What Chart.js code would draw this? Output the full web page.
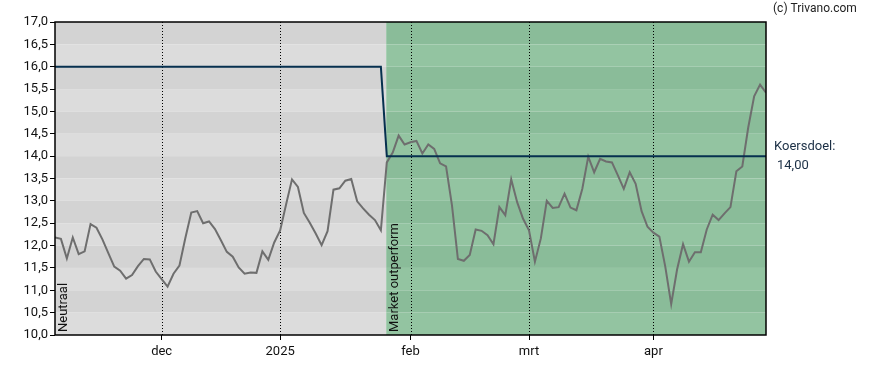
<!DOCTYPE html>
<html>
<head>
<meta charset="utf-8">
<script src="https://cdn.jsdelivr.net/npm/chart.js@4/dist/chart.umd.min.js"></script>
<style>
    html, body { margin: 0; padding: 0; background: #fff; }
    #wrap { width: 888px; height: 370px; position: relative; }
</style>
</head>
<body>
<div id="wrap"><canvas id="koersChart"></canvas></div>
<script>
// Daily closes, one per trading day (early nov 2024 .. end apr 2025)
const prices = [
    12.18, 12.15, 11.71, 12.18, 11.81, 11.87, 12.48, 12.40, 12.14, 11.83,
    11.53, 11.44, 11.26, 11.34, 11.54, 11.70, 11.69, 11.42, 11.25, 11.08,
    11.37, 11.55, 12.17, 12.74, 12.77, 12.50, 12.54, 12.37, 12.12, 11.86,
    11.75, 11.51, 11.37, 11.40, 11.39, 11.87, 11.68, 12.07, 12.34, 12.92,
    13.48, 13.31, 12.73, 12.51, 12.27, 12.01, 12.32, 13.25, 13.28, 13.45,
    13.49, 12.99, 12.83, 12.69, 12.57, 12.34, 13.86, 14.08, 14.46, 14.26,
    14.31, 14.34, 14.06, 14.26, 14.16, 13.84, 13.77, 12.90, 11.70, 11.66,
    11.79, 12.36, 12.33, 12.23, 12.03, 12.86, 12.68, 13.48, 12.97, 12.60,
    12.34, 11.64, 12.16, 13.00, 12.84, 12.86, 13.16, 12.85, 12.79, 13.27,
    13.99, 13.64, 13.94, 13.88, 13.86, 13.57, 13.27, 13.64, 13.38, 12.77,
    12.42, 12.29, 12.20, 11.53, 10.69, 11.47, 12.03, 11.64, 11.85, 11.85,
    12.36, 12.69, 12.57, 12.72, 12.86, 13.66, 13.77, 14.64, 15.34, 15.60,
    15.42
];

// Koersdoel (price target) steps
const targetX = [0, 55, 56, 120];
const targetY = [16, 16, 14, 14];
const targetNow = "14,00";

// Month markers on x axis (trading-day index)
const monthIdx = [18, 38, 60, 80, 101];
const monthLabels = ["dec", "2025", "feb", "mrt", "apr"];

// Advice zones
const zoneStart = [0, 55.9];
const zoneLabels = ["Neutraal", "Market outperform"];
const zoneColors = [["#d3d3d3", "#dcdcdc"], ["#8abc99", "#93c4a1"]];

const yMin = 10, yMax = 17, yStep = 0.5;

const fmt = v => v.toFixed(1).replace(".", ",");

const backdrop = {
    id: "backdrop",
    beforeDatasetsDraw(chart) {
        const { ctx, chartArea: a, scales: { x, y } } = chart;
        ctx.save();
        // zone bands
        zoneStart.forEach((s, z) => {
            const x0 = x.getPixelForValue(s);
            const x1 = z + 1 < zoneStart.length ? x.getPixelForValue(zoneStart[z + 1]) : a.right;
            let k = 0;
            for (let v = yMax; v > yMin; v -= yStep, k++) {
                const y0 = y.getPixelForValue(v), y1 = y.getPixelForValue(v - yStep);
                ctx.fillStyle = zoneColors[z][k % 2];
                ctx.fillRect(x0, y0, x1 - x0, y1 - y0);
            }
        });
        // dotted month lines
        ctx.strokeStyle = "#000";
        ctx.lineWidth = 1;
        ctx.setLineDash([1, 2]);
        monthIdx.forEach(m => {
            const px = Math.round(x.getPixelForValue(m)) + 0.5;
            ctx.beginPath();
            ctx.moveTo(px, a.top);
            ctx.lineTo(px, a.bottom);
            ctx.stroke();
        });
        ctx.setLineDash([]);
        // zone names
        ctx.fillStyle = "#111";
        ctx.font = "13px Roboto";
        ctx.textAlign = "left";
        ctx.textBaseline = "middle";
        zoneStart.forEach((s, z) => {
            ctx.save();
            ctx.translate(x.getPixelForValue(s) + 9, a.bottom - 3);
            ctx.rotate(-Math.PI / 2);
            ctx.fillText(zoneLabels[z], 0, 0);
            ctx.restore();
        });
        ctx.restore();
    },
    afterDraw(chart) {
        const { ctx, chartArea: a, scales: { y } } = chart;
        ctx.save();
        ctx.strokeStyle = "#000";
        ctx.lineWidth = 1.5;
        ctx.strokeRect(a.left, a.top, a.right - a.left, a.bottom - a.top);
        ctx.fillStyle = "#1b2f45";
        ctx.font = "13px Roboto";
        ctx.textBaseline = "middle";
        const ty = y.getPixelForValue(targetY[targetY.length - 1]);
        ctx.fillText("Koersdoel:", a.right + 8, ty - 9);
        ctx.fillText(targetNow, a.right + 11, ty + 10);
        ctx.fillStyle = "#222";
        ctx.font = "12px Roboto";
        ctx.fillText("(c) Trivano.com", 773, 9);
        ctx.restore();
    }
};

new Chart(document.getElementById("koersChart"), {
    type: "line",
    data: {
        datasets: [
            {
                label: "Koers",
                data: prices.map((v, i) => ({ x: i, y: v })),
                borderColor: "#6e6e6e",
                borderWidth: 2,
                pointRadius: 0,
                tension: 0,
                order: 2
            },
            {
                label: "Koersdoel",
                data: targetX.map((v, i) => ({ x: v, y: targetY[i] })),
                borderColor: "#06304f",
                borderWidth: 2,
                pointRadius: 0,
                tension: 0,
                order: 1
            }
        ]
    },
    options: {
        responsive: true,
        maintainAspectRatio: false,
        animation: false,
        events: [],
        layout: { padding: { top: 22, right: 122, left: 0, bottom: 0 } },
        plugins: { legend: { display: false }, tooltip: { enabled: false } },
        scales: {
            x: {
                type: "linear",
                min: 0,
                max: prices.length - 1,
                afterBuildTicks: s => { s.ticks = monthIdx.map(v => ({ value: v })); },
                afterFit: s => { s.height = 35; },
                ticks: {
                    autoSkip: false,
                    maxRotation: 0,
                    padding: 4,
                    color: "#111",
                    font: { family: "Roboto", size: 13 },
                    callback: v => monthLabels[monthIdx.indexOf(v)]
                },
                grid: { drawOnChartArea: false, tickLength: 5, color: "#000" },
                border: { display: false }
            },
            y: {
                min: yMin,
                max: yMax,
                afterFit: s => { s.width = 55; },
                ticks: {
                    stepSize: yStep,
                    padding: 2,
                    color: "#111",
                    font: { family: "Roboto", size: 13 },
                    callback: v => fmt(v)
                },
                grid: { drawOnChartArea: false, tickLength: 5, color: "#000" },
                border: { display: false }
            }
        }
    },
    plugins: [backdrop]
});
</script>
</body>
</html>
